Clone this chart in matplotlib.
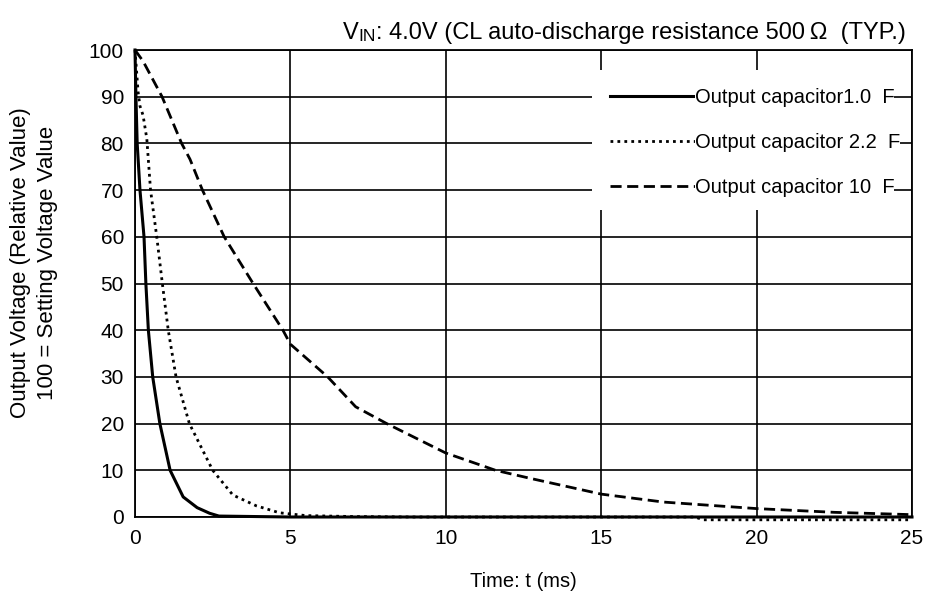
import matplotlib
matplotlib.use("Agg")
import matplotlib.pyplot as plt
from matplotlib.lines import Line2D
from matplotlib.patches import Rectangle

plt.rcParams['font.family'] = ['Liberation Sans', 'DejaVu Sans']

# 1.0 F (solid)
t_1u = [0, 0.03, 0.07, 0.16, 0.29, 0.35, 0.43, 0.57, 0.8, 1.13, 1.55, 2.0, 2.4, 2.7, 5, 10, 15, 20, 25]
v_1u = [100, 90, 80, 70, 60, 50, 40, 30, 20, 10, 4.3, 2.0, 0.8, 0.2, 0, 0, 0, 0, 0]

# 2.2 F (dotted)
t_2u = [0, 0.1, 0.16, 0.26, 0.38, 0.5, 0.7, 0.88, 1.07, 1.32, 1.75, 2.5, 3.15, 3.9, 4.65, 5.5, 7, 9, 18, 18.3, 25]
v_2u = [100, 91, 88, 86, 81, 70, 60, 50, 40, 30, 20, 10, 4.7, 2.4, 0.9, 0.3, 0.1, 0, 0, -0.6, -0.6]

# 10 F (dashed)
t_10u = [0, 0.26, 0.87, 1.5, 1.77, 2.17, 2.87, 3.8, 4.76, 5, 6.2, 7.1, 8.1, 10, 11.6, 12.7, 15, 17, 20, 22.5, 25]
v_10u = [100, 97.6, 90, 80, 76.6, 70, 60, 50, 40, 37, 30, 23.6, 20, 13.7, 10, 8.3, 4.9, 3.2, 1.8, 1.0, 0.5]

labels = ['Output capacitor1.0  F', 'Output capacitor 2.2  F', 'Output capacitor 10  F']
xticks = [0, 5, 10, 15, 20, 25]
yticks = [0, 10, 20, 30, 40, 50, 60, 70, 80, 90, 100]

fig = plt.figure(figsize=(9.26, 5.96), dpi=100)
ax = fig.add_axes([135 / 926, 1 - 517 / 596, 777 / 926, 467 / 596])

ax.set_xlim(0, 25)
ax.set_ylim(0, 100)
ax.set_xticks(xticks)
ax.set_yticks(yticks)
ax.tick_params(length=0, labelsize=15)
ax.tick_params(axis='y', pad=8)
ax.tick_params(axis='x', pad=9)
ax.grid(color='black', linewidth=1.2)
ax.set_axisbelow(True)
for s in ax.spines.values():
    s.set_linewidth(1.3)

l1, = ax.plot(t_1u, v_1u, color='black', lw=2.2, zorder=4, clip_on=False)
l2, = ax.plot(t_2u, v_2u, color='black', lw=2.0, ls=(0, (1, 1.5)), zorder=4, clip_on=False)
l3, = ax.plot(t_10u, v_10u, color='black', lw=2.0, ls=(0, (4, 2)), zorder=4)

# white area behind the legend
ax.add_patch(Rectangle(((592 - 135) / 777, (517 - 210) / 467), (880 - 592) / 777, (210 - 70) / 467,
                       transform=ax.transAxes, facecolor='white', edgecolor='none', zorder=3))

h1 = Line2D([], [], color='black', lw=2.2)
h2 = Line2D([], [], color='black', lw=2.0, ls=(0, (1, 1.5)))
h3 = Line2D([], [], color='black', lw=2.0, ls=(0, (4, 2)))
leg = ax.legend([h1, h2, h3], labels, loc='upper left',
                bbox_to_anchor=((610 - 135) / 777, (517 - 88) / 467),
                frameon=False, fontsize=14.5, handlelength=4.2, handletextpad=0,
                borderpad=0, borderaxespad=0, labelspacing=1.3)
leg.set_zorder(5)
for t in leg.get_texts():
    t.set_bbox(dict(facecolor='white', edgecolor='none', pad=0))

ax.set_xlabel('Time: t (ms)', fontsize=14.5, labelpad=17)
fig.text(34 / 926, 1 - 263 / 596, 'Output Voltage (Relative Value)\n100 = Setting Voltage Value',
         rotation=90, ha='center', va='center', fontsize=16, multialignment='center',
         linespacing=1.4)

# title with small-caps "IN"
t1 = fig.text(343 / 926, 1 - 39 / 596, 'V', fontsize=17, va='baseline', ha='left')
t2 = ax.annotate('IN', xy=(1, 0), xycoords=t1, va='bottom', ha='left', fontsize=12.5,
                 annotation_clip=False)
ax.annotate(': 4.0V (CL auto-discharge resistance 500\u2009Ω  (TYP.)', xy=(1, 0), xycoords=t2,
            va='bottom', ha='left', fontsize=17, annotation_clip=False)

fig.savefig('out.png', dpi=100)
